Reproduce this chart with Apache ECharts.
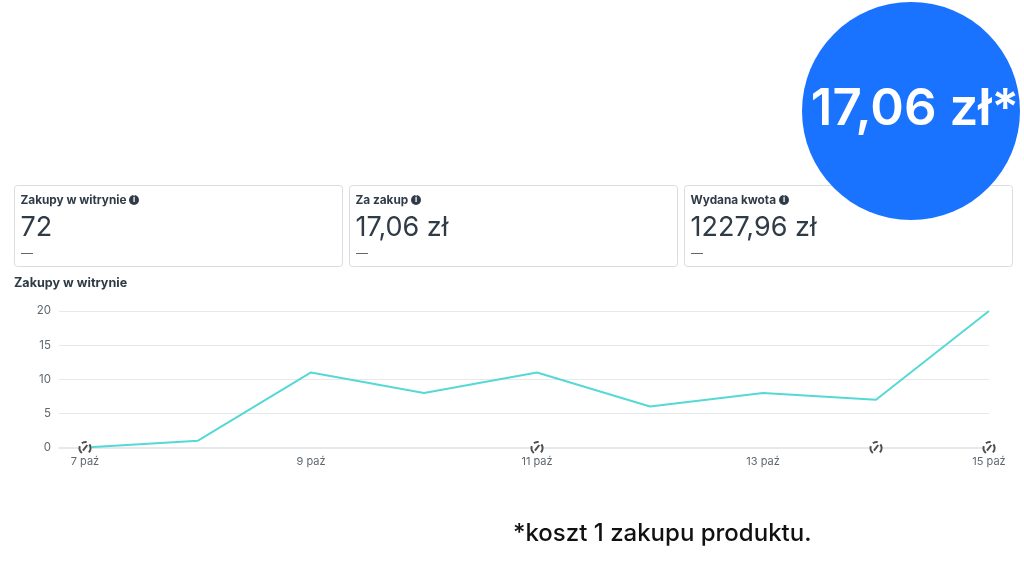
<!DOCTYPE html>
<html>
<head>
<meta charset="utf-8">
<style>
html,body{margin:0;padding:0;background:#fff}
#main{width:1024px;height:577px}
</style>
<script src="https://cdn.jsdelivr.net/npm/echarts@6/dist/echarts.min.js"></script>
</head>
<body>
<div id="main"></div>
<script>
var days = ['7 paź','8 paź','9 paź','10 paź','11 paź','12 paź','13 paź','14 paź','15 paź'];
var purchases = [0,1,11,8,11,6,8,7,20];
var labelledDays = [0,2,4,6,8];
var gaugeDays = [0,4,7,8];
var cardTitles = ['Zakupy w witrynie','Za zakup','Wydana kwota'];
var cardValues = ['72','17,06 zł','1227,96 zł'];
var cardLefts = [14,349,684];
var infoLefts = [134,416,784];

var gaugeIcon = 'path://M6 21A11 11 0 0 1 2 9M6 4A11 11 0 0 1 15 2M20 6A11 11 0 0 1 19 20M8 17L16 7';
var font = 'Inter, Roboto, sans-serif';

var myChart = echarts.init(document.getElementById('main'), null, {renderer:'canvas'});

var graphic = [];
cardTitles.forEach(function(t,i){
  var x = cardLefts[i];
  graphic.push({type:'rect',z:1,shape:{x:x+0.5,y:185.5,width:328,height:81,r:3},style:{fill:'#fff',stroke:'#d9dde1',lineWidth:1}});
  graphic.push({type:'text',z:2,x:x+6.5,y:194.5,style:{text:t,font:'700 11.8px '+font,fill:'#2f3b46'}});
  graphic.push({type:'text',z:2,x:x+6.5,y:214,style:{text:cardValues[i],font:'400 27px '+font,fill:'#2f3b46'}});
  graphic.push({type:'rect',z:2,shape:{x:x+7,y:253,width:12,height:1},style:{fill:'#5d6870'}});
  graphic.push({type:'circle',z:2,shape:{cx:infoLefts[i],cy:200,r:5},style:{fill:'#2f3b46'}});
  graphic.push({type:'text',z:3,x:infoLefts[i],y:200,style:{text:'i',font:'700 8px '+font,fill:'#fff',align:'center',verticalAlign:'middle'}});
});
graphic.push({type:'circle',z:10,shape:{cx:911,cy:111,r:109},style:{fill:'#1a73ff'}});
graphic.push({type:'text',z:11,x:915,y:110,style:{text:'17,06 zł*',font:'600 51px '+font,fill:'#fff',align:'center',verticalAlign:'middle'}});
graphic.push({type:'text',z:11,x:513,y:534,style:{text:'*koszt 1 zakupu produktu.',font:'500 24px '+font,fill:'#111',verticalAlign:'middle'}});

var option = {
  animation:false,
  backgroundColor:'#fff',
  title:{text:'Zakupy w witrynie',left:14,top:277,padding:0,textStyle:{fontFamily:font,fontSize:12.6,fontWeight:700,color:'#2f3b46'}},
  graphic:graphic,
  grid:{left:59,right:35,top:311,bottom:129.5},
  xAxis:{
    type:'value',
    min:-0.23,
    max:8,
    splitLine:{show:false},
    axisLine:{show:true,lineStyle:{color:'#e6e8ea',width:2}},
    axisTick:{show:false},
    axisLabel:{
      customValues:labelledDays,
      margin:9,
      fontFamily:font,
      fontSize:11,
      color:'#5d6870',
      formatter:function(v){return days[v]}
    }
  },
  yAxis:{
    type:'value',
    min:0,
    max:20,
    interval:5,
    axisLine:{show:false},
    axisTick:{show:false},
    splitLine:{lineStyle:{color:'#e6e8ea',width:1}},
    axisLabel:{margin:8,padding:[2,0,0,0],fontFamily:font,fontSize:11.5,color:'#5d6870'}
  },
  series:[
    {type:'line',symbol:'none',z:2,lineStyle:{color:'#56d9d6',width:2},
      data:purchases.map(function(v,i){return [i,v]})},
    {type:'scatter',symbol:'circle',symbolSize:14,z:3,silent:true,itemStyle:{color:'#fff'},
      data:gaugeDays.map(function(d){return [d,0]})},
    {type:'scatter',symbol:gaugeIcon,symbolSize:11,z:4,silent:true,
      itemStyle:{color:'none',borderColor:'#222',borderWidth:2},
      data:gaugeDays.map(function(d){return [d,0]})}
  ]
};
myChart.setOption(option);
</script>
</body>
</html>
